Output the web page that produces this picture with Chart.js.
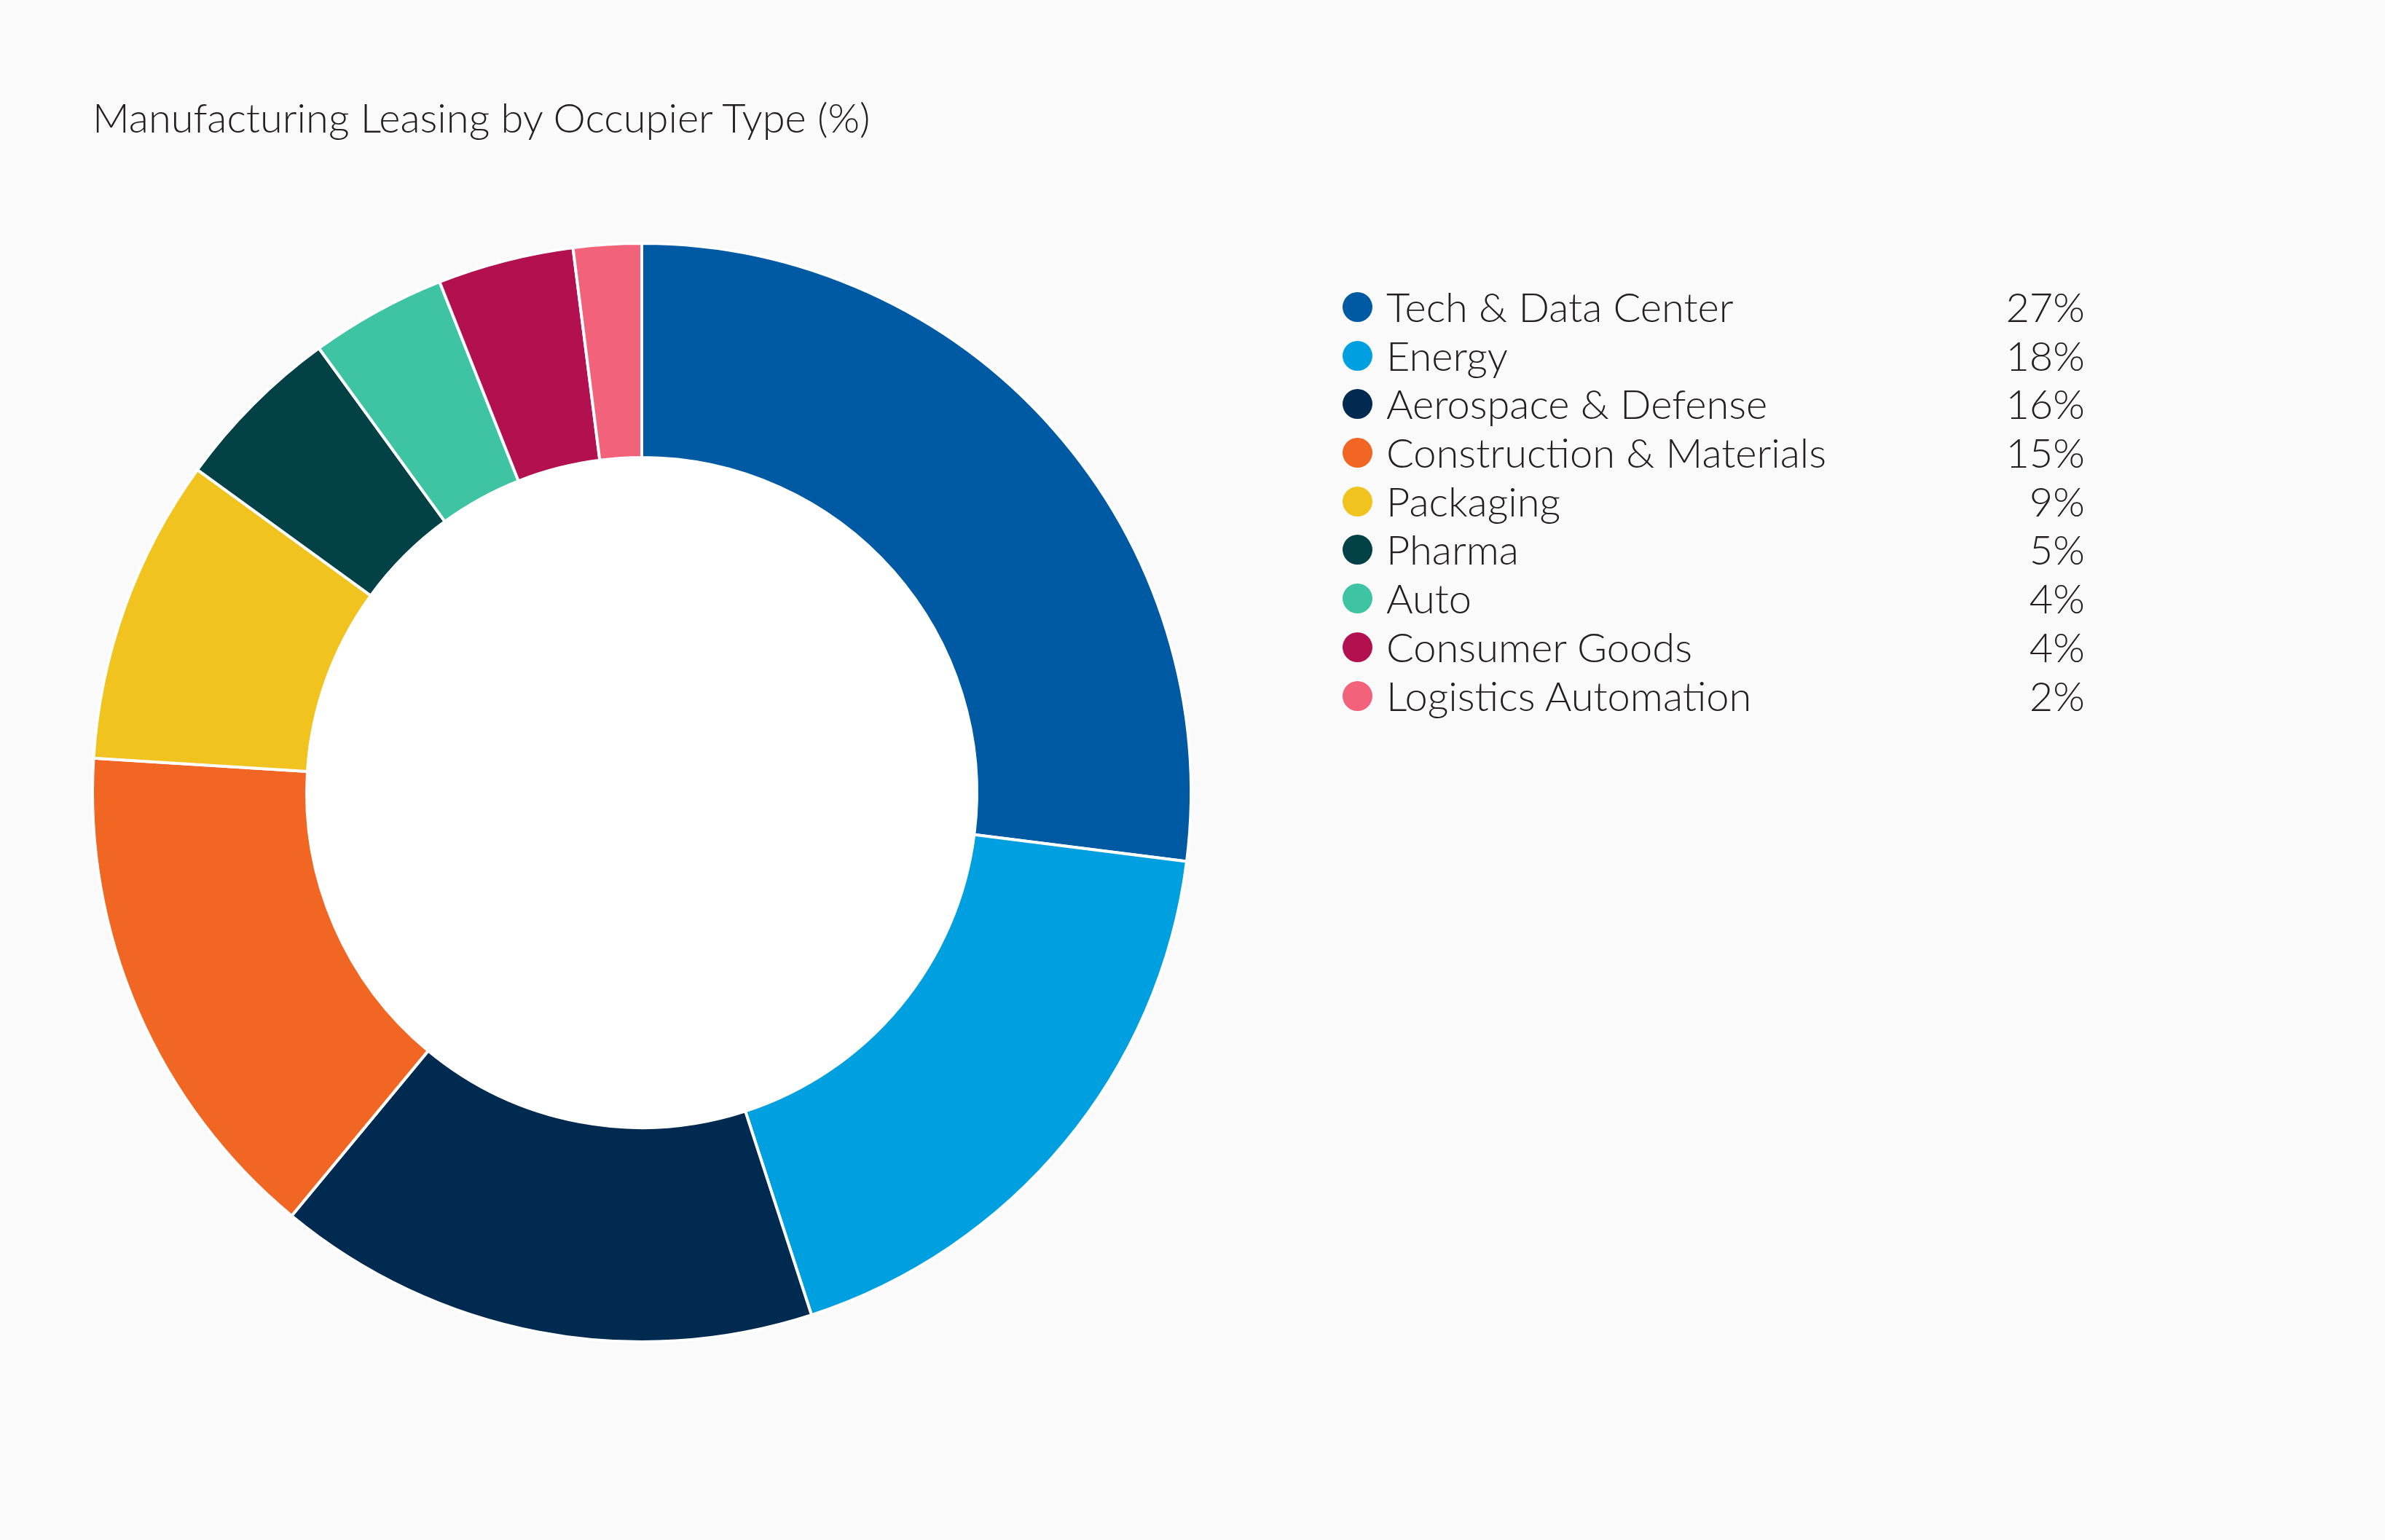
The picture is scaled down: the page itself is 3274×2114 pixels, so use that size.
<!DOCTYPE html>
<html>
    <head>
        <title>Manufacturing Leasing by Occupier Type</title>
        <script src="https://cdnjs.cloudflare.com/ajax/libs/Chart.js/4.4.1/chart.umd.min.js"></script>
        <style>
            html, body { margin: 0; padding: 0; background: #fafafa; }
            body { width: 3274px; height: 2114px; position: relative; overflow: hidden;
                   font-family: Lato, "Open Sans", sans-serif; font-weight: 300; color: #231f20; }
            #title { position: absolute; left: 127px; top: 127px; font-size: 56px; white-space: nowrap; }
            #wrap { position: absolute; left: 0; top: 0; width: 3274px; height: 2114px; }
            #legend { position: absolute; left: 1843px; top: 388px; width: 1019px; }
            .row { position: relative; height: 66.7px; line-height: 66.7px; font-size: 56px; white-space: nowrap; }
            .dot { position: absolute; left: 0; top: 13px; width: 41px; height: 41px; border-radius: 50%; }
            .lab { position: absolute; left: 60px; top: 0; }
            .val { position: absolute; right: 0; top: 0; }
        </style>
        <script>
            const categories = ["Tech & Data Center", "Energy", "Aerospace & Defense", "Construction & Materials",
                                "Packaging", "Pharma", "Auto", "Consumer Goods", "Logistics Automation"];
            const shares = [27, 18, 16, 15, 9, 5, 4, 4, 2];
            const colours = ["#005aa3", "#00a0e0", "#002a4f", "#f26624", "#f1c31e", "#024145", "#3ec4a3", "#b3104f", "#f2627a"];

            // white fill for the hole of the ring
            const holePlugin = {
                id: 'hole',
                beforeDatasetsDraw(chart) {
                    const arc = chart.getDatasetMeta(0).data[0];
                    if (!arc) return;
                    const ctx = chart.ctx;
                    ctx.save();
                    ctx.fillStyle = '#ffffff';
                    ctx.beginPath();
                    ctx.arc(arc.x, arc.y, arc.innerRadius, 0, Math.PI * 2);
                    ctx.fill();
                    ctx.restore();
                }
            };

            function buildLegend()
            {
                const legend = document.getElementById('legend');
                for (let i = 0; i < categories.length; i++)
                {
                    const row = document.createElement('div');
                    row.className = 'row';
                    row.innerHTML = '<span class="dot" style="background:' + colours[i] + '"></span>' +
                                    '<span class="lab"></span><span class="val">' + shares[i] + '%</span>';
                    row.querySelector('.lab').textContent = categories[i];
                    legend.appendChild(row);
                }
            }

            function loaded()
            {
                buildLegend();
                const ctx = document.getElementById('chart');
                new Chart(ctx, {
                    type: 'doughnut',
                    data: {
                        labels: categories,
                        datasets: [{
                            data: shares,
                            backgroundColor: colours,
                            borderColor: '#ffffff',
                            borderWidth: 4,
                            hoverOffset: 0
                        }]
                    },
                    options: {
                        responsive: false,
                        animation: false,
                        devicePixelRatio: 1,
                        cutout: '61%',
                        layout: { padding: { left: 125, right: 1637, top: 332, bottom: 270 } },
                        plugins: {
                            legend: { display: false },
                            title: { display: false },
                            tooltip: { enabled: false }
                        }
                    },
                    plugins: [holePlugin]
                });
            }

            window.addEventListener('load', loaded, true);
        </script>
    </head>
    <body>
        <div id="title">Manufacturing Leasing by Occupier Type (%)</div>
        <div id="wrap"><canvas id="chart" width="3274" height="2114"></canvas></div>
        <div id="legend"></div>
    </body>
</html>
